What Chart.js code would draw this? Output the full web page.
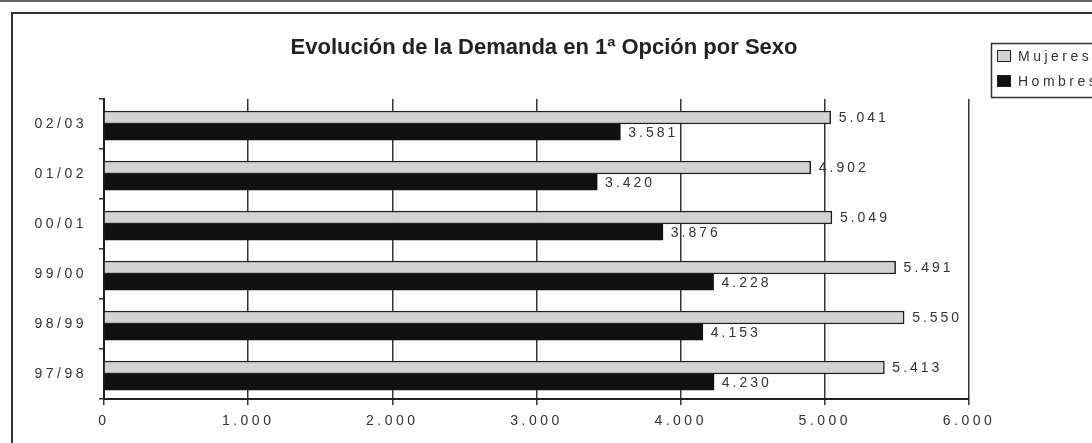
<!DOCTYPE html>
<html>
<head>
<meta charset="utf-8">
<script src="https://cdn.jsdelivr.net/npm/chart.js@4.4.0/dist/chart.umd.min.js"></script>
<style>
  html, body { margin: 0; padding: 0; background: #fff; }
  body { width: 1092px; height: 443px; position: relative; overflow: hidden; }
  .linea-sup { position: absolute; left: 0; top: 0; width: 1092px; border-top: 2px solid #666; }
  .marco { position: absolute; left: 11px; top: 12px; width: 1120px; height: 470px; border: 2px solid #333; }
  #wrap { position: absolute; left: 0; top: 0; width: 1092px; height: 443px; }
</style>
</head>
<body>
<div class="linea-sup"></div>
<div class="marco"></div>
<div id="wrap"><canvas id="demandaChart" width="1092" height="443"></canvas></div>
<script>
const titulo = "Evolución de la Demanda en 1ª Opción por Sexo";
const cursos = ["02/03", "01/02", "00/01", "99/00", "98/99", "97/98"];
const mujeres = [5041, 4902, 5049, 5491, 5550, 5413];
const hombres = [3581, 3420, 3876, 4228, 4153, 4230];
const etiquetasX = ["0", "1.000", "2.000", "3.000", "4.000", "5.000", "6.000"];

const fuente = "'Liberation Sans', Arial, sans-serif";

function formato(v) {
  return String(v).replace(/\B(?=(\d{3})+(?!\d))/g, ".");
}

// texto espaciado como en el original
const espaciado = {
  id: "espaciado",
  beforeDraw(chart) {
    chart.ctx.letterSpacing = "3.5px";
  },
};

const rotulos = {
  id: "rotulos",
  afterDatasetsDraw(chart) {
    const ctx = chart.ctx;
    ctx.save();
    ctx.letterSpacing = "3px";
    ctx.font = "14px " + fuente;
    ctx.fillStyle = "#333";
    ctx.textAlign = "left";
    ctx.textBaseline = "middle";
    chart.data.datasets.forEach((ds, i) => {
      chart.getDatasetMeta(i).data.forEach((bar, j) => {
        ctx.fillText(formato(ds.data[j]), bar.x + 8, bar.y + 1);
      });
    });
    ctx.restore();
  },
  afterDraw(chart) {
    const ctx = chart.ctx;
    ctx.save();
    // titulo
    ctx.letterSpacing = "0px";
    ctx.font = "bold 22px " + fuente;
    ctx.fillStyle = "#222";
    ctx.textAlign = "center";
    ctx.textBaseline = "middle";
    ctx.fillText(titulo, 544, 48);

    // leyenda
    ctx.strokeStyle = "#333";
    ctx.lineWidth = 1.5;
    ctx.strokeRect(991.5, 43.5, 130, 54);
    ctx.letterSpacing = "3.5px";
    ctx.font = "14px " + fuente;
    ctx.textAlign = "left";
    chart.data.datasets.forEach((ds, i) => {
      const y = 56 + i * 25;
      ctx.fillStyle = ds.backgroundColor;
      ctx.fillRect(997, y - 6, 14, 12);
      ctx.strokeStyle = "#222";
      ctx.lineWidth = 1;
      ctx.strokeRect(997.5, y - 5.5, 13, 11);
      ctx.fillStyle = "#333";
      ctx.fillText(ds.label, 1018, y + 1);
    });
    ctx.restore();
  },
};

const ctx = document.getElementById("demandaChart").getContext("2d");
new Chart(ctx, {
  type: "bar",
  data: {
    labels: cursos,
    datasets: [
      {
        label: "Mujeres",
        data: mujeres,
        backgroundColor: "#d3d3d3",
        borderColor: "#222",
        borderWidth: 1.5,
        barThickness: 13,
      },
      {
        label: "Hombres",
        data: hombres,
        backgroundColor: "#111",
        borderColor: "#111",
        borderWidth: 0,
        barThickness: 16,
      },
    ],
  },
  options: {
    indexAxis: "y",
    responsive: false,
    animation: false,
    layout: {
      padding: { top: 99, right: 123, left: 0, bottom: 0 },
    },
    plugins: {
      legend: { display: false },
      title: { display: false },
      tooltip: { enabled: false },
    },
    scales: {
      x: {
        min: 0,
        max: 6000,
        grid: { color: "#333", lineWidth: 1.5, tickLength: 6 },
        border: { color: "#222", width: 2 },
        ticks: {
          stepSize: 1000,
          padding: 8,
          maxRotation: 0,
          autoSkip: false,
          color: "#333",
          font: { size: 14, family: fuente },
          callback: (v, i) => etiquetasX[i],
        },
        afterFit(scale) {
          scale.height = 44;
        },
      },
      y: {
        grid: {
          drawOnChartArea: false,
          drawTicks: true,
          tickLength: 5,
          color: "#333",
          lineWidth: 1.5,
          offset: true,
        },
        border: { color: "#222", width: 2 },
        ticks: {
          color: "#333",
          padding: 12,
          font: { size: 14, family: fuente },
        },
        afterFit(scale) {
          scale.width = 104;
        },
      },
    },
  },
  plugins: [espaciado, rotulos],
});
</script>
</body>
</html>
